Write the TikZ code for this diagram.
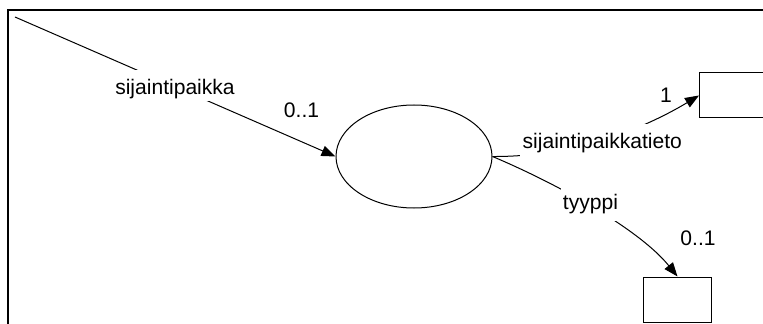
\documentclass[tikz,border=0pt]{standalone}
\usepackage{fontspec}
\setmainfont{Liberation Sans}
\usetikzlibrary{arrows.meta,shapes.geometric}
\begin{document}
\begin{tikzpicture}[x=0.75pt,y=-0.75pt,
  conn/.style={line width=0.75pt,-{Triangle[length=10.5pt,width=8pt]}},
  lbl/.style={font=\fontsize{15.8pt}{18pt}\selectfont,anchor=base,inner sep=0pt},
  cutlbl/.style={lbl,fill=white},
  boxnode/.style={draw,line width=0.75pt,inner sep=0pt,anchor=north west}]
\useasboundingbox (0,0) rectangle (763,324);
% frame (top and left edges)
\draw[line width=1.6pt] (763,10) -| (7.7,324);
% ellipse
\node[draw,ellipse,line width=0.75pt,minimum width=117pt,minimum height=77.25pt,inner sep=0pt] (e) at (414,156.5) {};
% boxes
\begin{scope}
\clip (0,0) rectangle (763,324);
\node[boxnode,minimum width=60pt,minimum height=33.75pt] (b1) at (699,72.5) {};
\end{scope}
\node[boxnode,minimum width=51pt,minimum height=34.1pt] (b2) at (643,276.5) {};
% connectors
\coordinate (s) at (15,17);
\draw[conn] (s) -- (e.west);
\draw[conn] (e.east) .. controls (575,157) and (645,128) .. (b1.west);
\draw[conn] (e.east) .. controls (560,185) and (640,230) .. (b2.north);
% labels
\node[cutlbl,text height=18.75pt,text depth=4.5pt] (l1) at (175,95) {sijaintipaikka};
\node[lbl] (m1) at (301.5,118) {0..1};
\node[cutlbl,text height=18.4pt,text depth=7.5pt,inner xsep=2.25pt] (l2) at (602.3,148.5) {sijaintipaikkatieto};
\node[lbl] (m2) at (666,103) {1};
\node[cutlbl,text height=16.5pt,text depth=9pt,inner xsep=1.5pt] (l3) at (590.5,209) {tyyppi};
\node[lbl] (m3) at (698,245) {0..1};
\end{tikzpicture}
\end{document}
